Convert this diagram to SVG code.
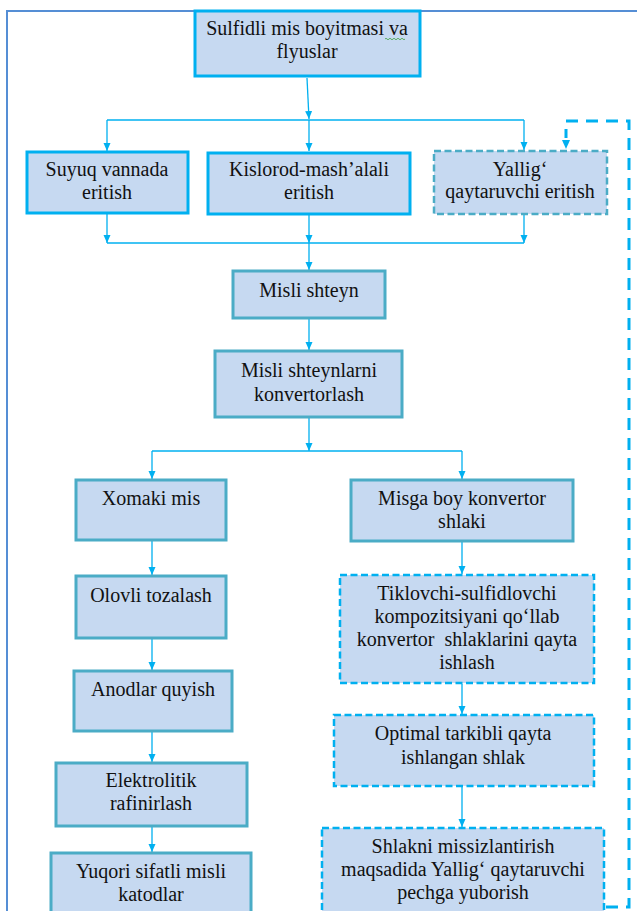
<svg xmlns="http://www.w3.org/2000/svg" width="637" height="911" viewBox="0 0 637 911" font-family="'Liberation Serif', 'DejaVu Serif', serif">
<defs>
<marker id="ah" markerUnits="userSpaceOnUse" markerWidth="9" markerHeight="8" refX="8" refY="3.5" orient="auto">
<path d="M0,0 L8,3.5 L0,7 z" fill="#00B0F0"/>
</marker>
<style>
.bx{fill:#C6D9F1}
.sb{stroke:#00B0F0;stroke-width:3}
.st{stroke:#4BACC6;stroke-width:3}
.dt{stroke:#4BACC6;stroke-width:2.5;stroke-dasharray:7 3.5}
.db{stroke:#00B0F0;stroke-width:2.5;stroke-dasharray:7 3.5}
.ln{fill:none;stroke:#00B0F0;stroke-width:1.3}
.ar{fill:none;stroke:#00B0F0;stroke-width:1.3;marker-end:url(#ah)}
.fb{fill:none;stroke:#00B0F0;stroke-width:3;stroke-dasharray:12 8}
.t{font-family:'Liberation Serif','DejaVu Serif',serif;font-size:20px;fill:#111;text-anchor:middle}
</style>
</defs>
<rect width="637" height="911" fill="#fff"/>
<path d="M7,911 V11 H637" fill="none" stroke="#558ED5" stroke-width="2"/>

<g id="connectors">
<path class="ar" d="M307,78 L309,119"/>
<path class="ln" d="M107,120 H524"/>
<path class="ar" d="M107,120 V151"/>
<path class="ar" d="M309,120 V151"/>
<path class="ar" d="M524,120 V150"/>
<path class="ar" d="M107,214 V243"/>
<path class="ar" d="M309,215 V243"/>
<path class="ar" d="M524,215 V243"/>
<path class="ln" d="M107,243 H524"/>
<path class="ar" d="M309,243 V270"/>
<path class="ar" d="M309,319 V350"/>
<path class="ar" d="M309,418 V451"/>
<path class="ln" d="M152,451 H462"/>
<path class="ar" d="M152,451 V479"/>
<path class="ar" d="M462,451 V479"/>
<path class="ar" d="M152,541 V575"/>
<path class="ar" d="M152,639 V670"/>
<path class="ar" d="M152,732 V762"/>
<path class="ar" d="M152,827 V852"/>
<path class="ar" d="M462,542 V574"/>
<path class="ar" d="M462,684 V714"/>
<path class="ar" d="M462,787 V827"/>
<path class="fb" d="M606,907 H629 V121 H566 V138"/>
<path d="M562,140 L566,149 L570,140 z" fill="#00B0F0"/>
</g>

<g id="n1">
<rect class="bx sb" x="195" y="11" width="225" height="65"/>
<text class="t" x="307" y="35">Sulfidli mis boyitmasi va</text>
<text class="t" x="307" y="58">flyuslar</text>
<path d="M385,39 q1,-1.5 2,0 t2,0 t2,0 t2,0 t2,0 t2,0 t2,0 t2,0 t2,0 t2,0" fill="none" stroke="#3CA03C" stroke-width="0.8"/>
</g>
<g id="n2">
<rect class="bx sb" x="27" y="152" width="161" height="61"/>
<text class="t" x="107" y="176">Suyuq vannada</text>
<text class="t" x="107" y="199">eritish</text>
</g>
<g id="n3">
<rect class="bx sb" x="208" y="153" width="202" height="61"/>
<text class="t" x="309" y="176">Kislorod-mash’alali</text>
<text class="t" x="309" y="199">eritish</text>
</g>
<g id="n4">
<rect class="bx dt" x="434" y="151" width="173" height="63"/>
<text class="t" x="520" y="176">Yallig‘</text>
<text class="t" x="520" y="198">qaytaruvchi eritish</text>
</g>
<g id="n5">
<rect class="bx st" x="233" y="271" width="152" height="47"/>
<text class="t" x="309" y="297">Misli shteyn</text>
</g>
<g id="n6">
<rect class="bx st" x="215" y="351" width="187" height="66"/>
<text class="t" x="309" y="377">Misli shteynlarni</text>
<text class="t" x="309" y="401">konvertorlash</text>
</g>
<g id="n7">
<rect class="bx st" x="76" y="480" width="150" height="60"/>
<text class="t" x="151" y="505">Xomaki mis</text>
</g>
<g id="n8">
<rect class="bx st" x="351" y="480" width="222" height="61"/>
<text class="t" x="462" y="505">Misga boy konvertor</text>
<text class="t" x="462" y="528">shlaki</text>
</g>
<g id="n9">
<rect class="bx st" x="76" y="576" width="150" height="62"/>
<text class="t" x="151" y="602">Olovli tozalash</text>
</g>
<g id="n10">
<rect class="bx db" x="340" y="575" width="254" height="108"/>
<text class="t" x="467" y="600">Tiklovchi-sulfidlovchi</text>
<text class="t" x="467" y="623">kompozitsiyani qo‘llab</text>
<text class="t" x="467" y="646" xml:space="preserve">konvertor  shlaklarini qayta</text>
<text class="t" x="467" y="669">ishlash</text>
</g>
<g id="n11">
<rect class="bx st" x="74" y="671" width="158" height="60"/>
<text class="t" x="153" y="696">Anodlar quyish</text>
</g>
<g id="n12">
<rect class="bx db" x="334" y="715" width="260" height="71"/>
<text class="t" x="463" y="740">Optimal tarkibli qayta</text>
<text class="t" x="463" y="764">ishlangan shlak</text>
</g>
<g id="n13">
<rect class="bx st" x="56" y="763" width="191" height="63"/>
<text class="t" x="151" y="787">Elektrolitik</text>
<text class="t" x="151" y="810">rafinirlash</text>
</g>
<g id="n14">
<rect class="bx st" x="51" y="853" width="200" height="70"/>
<text class="t" x="151" y="878">Yuqori sifatli misli</text>
<text class="t" x="151" y="901">katodlar</text>
</g>
<g id="n15">
<rect class="bx db" x="322" y="828" width="282" height="95"/>
<text class="t" x="463" y="853">Shlakni missizlantirish</text>
<text class="t" x="463" y="876">maqsadida Yallig‘ qaytaruvchi</text>
<text class="t" x="463" y="899">pechga yuborish</text>
</g>
</svg>
